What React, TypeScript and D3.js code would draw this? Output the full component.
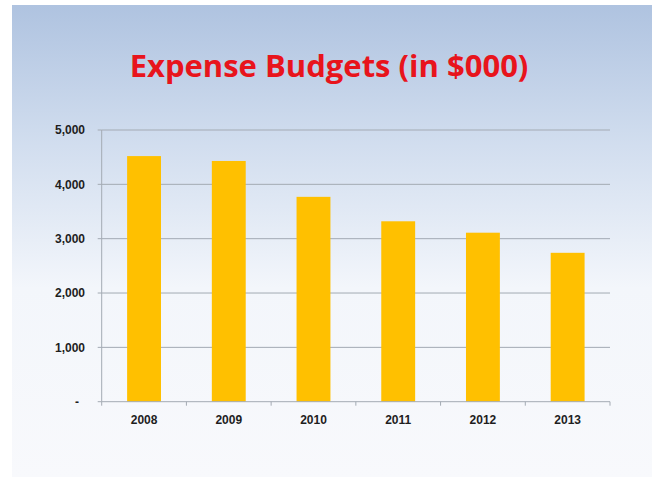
import React from "react";
import * as d3 from "d3";

const years = ["2008", "2009", "2010", "2011", "2012", "2013"];
const budgets = [4520, 4430, 3770, 3320, 3110, 2740];
const yTicks = [0, 1000, 2000, 3000, 4000, 5000];
const titleText = "Expense Budgets (in $000)";

export default function App() {
  const W = 657, H = 478;
  const left = 101.7, right = 610, top = 130, bottom = 401.7;
  const x = d3.scaleBand<string>().domain(years).range([left, right]).padding(0);
  const y = d3.scaleLinear().domain([0, 5000]).range([bottom, top]);
  const bw = x.bandwidth() * 0.4;
  const fmt = d3.format(",");
  return (
    <svg width={W} height={H} style={{ position: "absolute", left: 0, top: 0 }}>
      <defs>
        <linearGradient id="bg" x1="0" y1="0" x2="0" y2="1">
          <stop offset="0" stopColor="#afc3e0" />
          <stop offset="0.3" stopColor="#d2deef" />
          <stop offset="0.6" stopColor="#f3f6fb" />
          <stop offset="1" stopColor="#f8f9fc" />
        </linearGradient>
      </defs>
      <rect x={0} y={0} width={W} height={H} fill="#ffffff" />
      <rect x={12} y={5} width={640} height={472} fill="url(#bg)" />
      <text
        x={329}
        y={77}
        textAnchor="middle"
        fill="#e8141c"
        fontFamily="'Open Sans', sans-serif"
        fontWeight={700}
        fontSize={31}
      >
        {titleText}
      </text>
      {yTicks.map((t) => (
        <g key={t}>
          {t > 0 && (
            <line x1={left} x2={right} y1={y(t)} y2={y(t)} stroke="#a3aab3" strokeWidth={1} />
          )}
          <line x1={left - 4} x2={left} y1={y(t)} y2={y(t)} stroke="#a3aab3" strokeWidth={1} />
          <text
            x={t === 0 ? 79 : 85}
            y={y(t)}
            dy="0.35em"
            textAnchor="end"
            fill="#1e1e1e"
            fontFamily="'Liberation Sans', Arial, sans-serif"
            fontWeight={700}
            fontSize={12}
          >
            {t === 0 ? "-" : fmt(t)}
          </text>
        </g>
      ))}
      {years.map((yr, i) => (
        <rect
          key={yr}
          x={(x(yr) as number) + (x.bandwidth() - bw) / 2}
          y={y(budgets[i])}
          width={bw}
          height={bottom - y(budgets[i])}
          fill="#ffc000"
        />
      ))}
      <line x1={left} x2={left} y1={top} y2={bottom} stroke="#a3aab3" strokeWidth={1} />
      <line x1={left} x2={right} y1={bottom} y2={bottom} stroke="#a3aab3" strokeWidth={1} />
      {[...years.map((yr) => x(yr) as number), right].map((tx, i) => (
        <line key={i} x1={tx} x2={tx} y1={bottom} y2={bottom + 4} stroke="#a3aab3" strokeWidth={1} />
      ))}
      {years.map((yr) => (
        <text
          key={yr}
          x={(x(yr) as number) + x.bandwidth() / 2}
          y={424}
          textAnchor="middle"
          fill="#1e1e1e"
          fontFamily="'Liberation Sans', Arial, sans-serif"
          fontWeight={700}
          fontSize={12}
        >
          {yr}
        </text>
      ))}
    </svg>
  );
}
